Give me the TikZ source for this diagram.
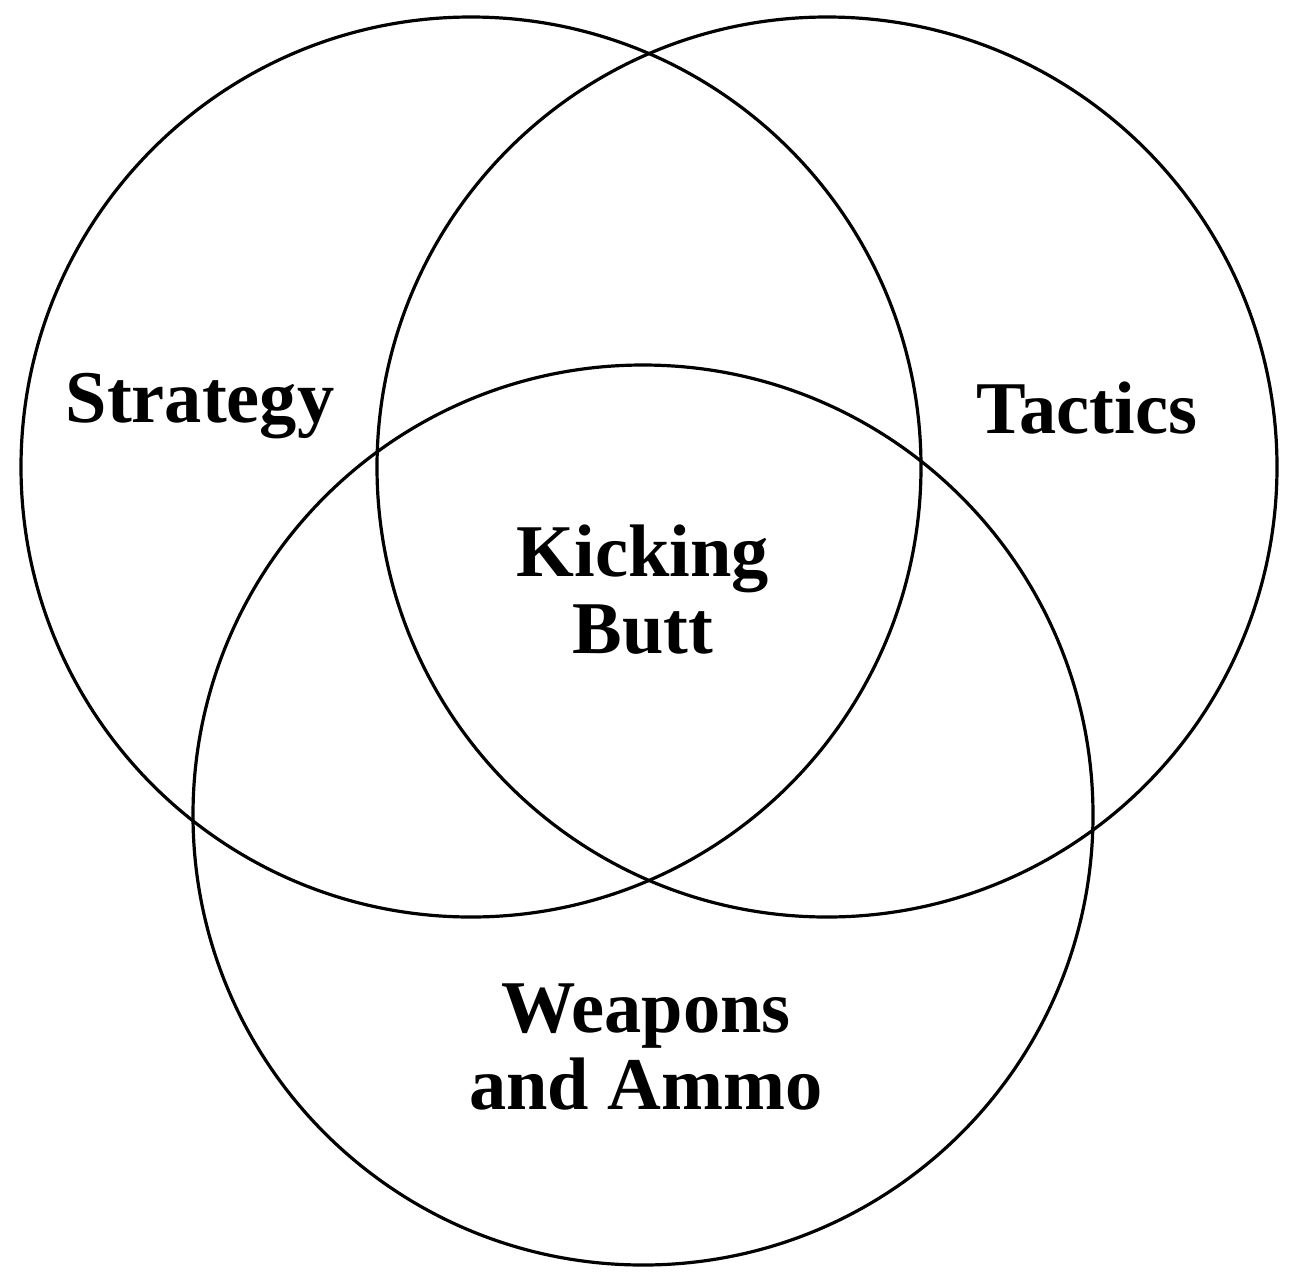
\documentclass[tikz,border=0pt]{standalone}
\usepackage{fontspec}
\setmainfont{Liberation Serif}
\usetikzlibrary{positioning}
\tikzstyle{ring} = [line width=1.6pt, draw=black]
\tikzstyle{label} = [font=\fontsize{37.2}{38.5}\selectfont\bfseries, align=center, inner sep=0pt]
\begin{document}
\begin{tikzpicture}[x=0.5pt, y=-0.5pt]
        \useasboundingbox (0,0) rectangle (1290,1275);
        \coordinate (cStrat) at (471,467);
        \coordinate (cTact) at (827,467);
        \coordinate (cWeap) at (643,815);

        \draw [ring] (cStrat) circle (450);
        \draw [ring] (cTact) circle (450);
        \draw [ring] (cWeap) circle (450);

        % base anchor sits on the last line
        \node (strat) [label, anchor=base] at (200,422) {Strategy};
        \node (tact) [label, anchor=base] at (1087,433) {Tactics};
        \node (kick) [label, anchor=base] at (643,653) {Kicking\\Butt};
        \node (weap) [label, anchor=base] at (646,1109) {Weapons\\and Ammo};
\end{tikzpicture}
\end{document}
